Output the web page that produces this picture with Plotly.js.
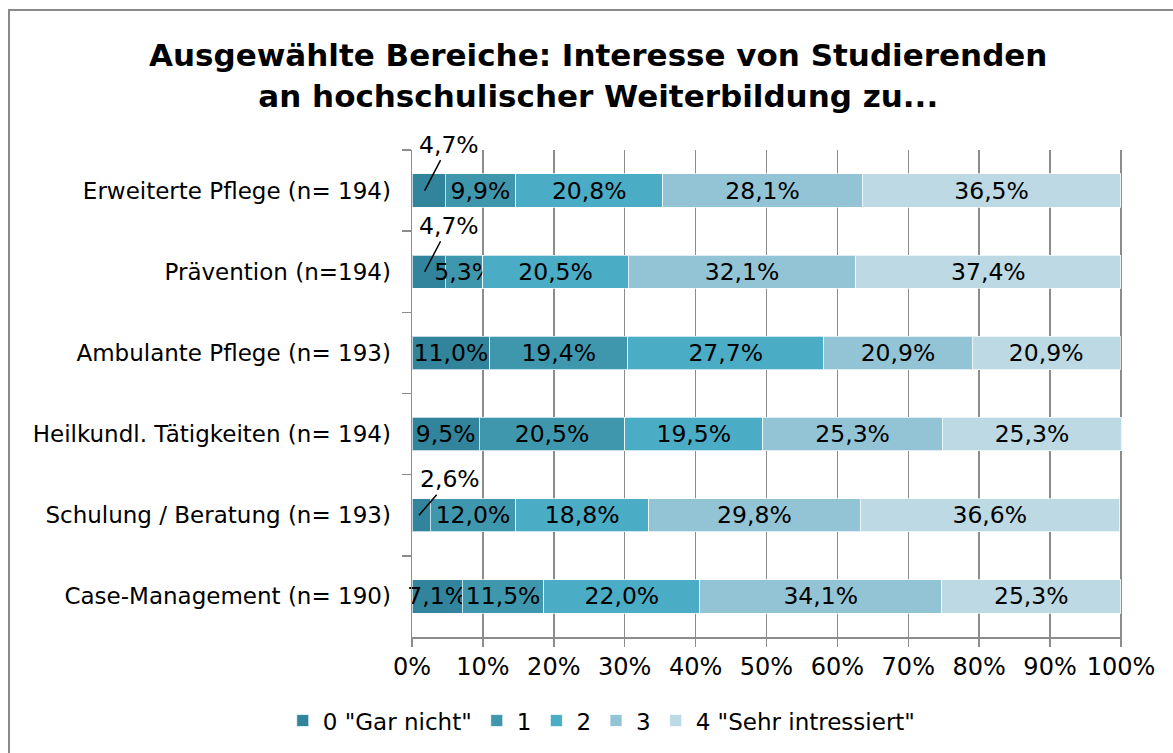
<!DOCTYPE html>
<html>
<head>
<meta charset="utf-8">
<script src="https://cdn.plot.ly/plotly-3.0.1.min.js"></script>
<style>
  html, body { margin: 0; padding: 0; background: #fff; overflow: hidden; }
  #wrap { position: relative; width: 1173px; height: 753px; overflow: hidden; background: #fff; }
  #chart { position: absolute; left: 0; top: 0; width: 1173px; height: 753px; }
  #frame { position: absolute; left: 8px; top: 9px; width: 1165px; height: 744px;
           border-top: 2px solid #8a8a8a; border-left: 2px solid #8a8a8a;
           pointer-events: none; box-sizing: border-box; }
</style>
</head>
<body>
<div id="wrap">
  <div id="chart"></div>
  <div id="frame"></div>
</div>
<script>
const categories = [
  'Erweiterte Pflege (n= 194)',
  'Prävention (n=194)',
  'Ambulante Pflege (n= 193)',
  'Heilkundl. Tätigkeiten (n= 194)',
  'Schulung / Beratung (n= 193)',
  'Case-Management (n= 190)'
];
const seriesNames = ['0 "Gar nicht"', '1', '2', '3', '4 "Sehr intressiert"'];
const s0 = [4.7, 4.7, 11.0, 9.5, 2.6, 7.1];
const s1 = [9.9, 5.3, 19.4, 20.5, 12.0, 11.5];
const s2 = [20.8, 20.5, 27.7, 19.5, 18.8, 22.0];
const s3 = [28.1, 32.1, 20.9, 25.3, 29.8, 34.1];
const s4 = [36.5, 37.4, 20.9, 25.3, 36.6, 25.3];
const xTicks = [0, 10, 20, 30, 40, 50, 60, 70, 80, 90, 100];

const colors = ['#31849b', '#3f97ae', '#4bacc6', '#93c4d6', '#bcd9e4'];
const allSeries = [s0, s1, s2, s3, s4];
const fmt = v => v.toFixed(1).replace('.', ',') + '%';
const FONT = 'DejaVu Sans, Liberation Sans, Arial, sans-serif';

const traces = allSeries.map((vals, si) => ({
  type: 'bar',
  orientation: 'h',
  name: seriesNames[si],
  y: categories,
  x: vals,
  text: vals.map(v => (si === 0 && v < 5) ? '' : fmt(v)),
  textposition: 'inside',
  insidetextanchor: 'middle',
  textangle: 0,
  constraintext: 'none',
  cliponaxis: false,
  textfont: { family: FONT, size: 23.5, color: '#000' },
  marker: { color: colors[si], line: { color: 'rgba(255,255,255,0.7)', width: 1 } },
  hoverinfo: 'x+name'
}));

// callout labels for the small first-series segments
const callouts = [];
s0.forEach((v, i) => {
  if (v < 5) {
    callouts.push({
      x: v * 0.38, y: categories[i], xref: 'x', yref: 'y',
      text: fmt(v),
      showarrow: true, arrowhead: 0, arrowwidth: 1.5, arrowcolor: '#000',
      ax: i === 4 ? 31 : 24, ay: i === 4 ? -36 : -46,
      standoff: 0,
      font: { family: FONT, size: 23.5, color: '#000' },
      bgcolor: 'rgba(255,255,255,0)'
    });
  }
});

const layout = {
  width: 1173, height: 753,
  paper_bgcolor: '#fff', plot_bgcolor: '#fff',
  margin: { l: 412, r: 51, t: 150, b: 116 },
  font: { family: FONT, size: 23, color: '#000' },
  title: {
    text: '<b>Ausgewählte Bereiche: Interesse von Studierenden<br>an hochschulischer Weiterbildung zu...</b>',
    font: { family: FONT, size: 31, color: '#000' },
    x: 0.51, xanchor: 'center', xref: 'container',
    y: 0.912, yanchor: 'top', yref: 'container'
  },
  barmode: 'stack',
  bargap: 0.59,
  xaxis: {
    range: [0, 100.15],
    tickvals: xTicks,
    ticktext: xTicks.map(t => t + '%'),
    showgrid: true, gridcolor: '#8c8c8c', gridwidth: 1.5,
    showline: true, linecolor: '#8c8c8c', linewidth: 1.5,
    ticks: 'outside', ticklen: 8, tickcolor: '#8c8c8c', tickwidth: 1.5,
    tickfont: { family: FONT, size: 24, color: '#000' },
    zeroline: false, fixedrange: true
  },
  yaxis: {
    type: 'category',
    categoryorder: 'array', categoryarray: categories,
    autorange: 'reversed',
    showline: true, linecolor: '#8c8c8c', linewidth: 1.5,
    ticks: 'outside', ticklen: 9, tickcolor: '#8c8c8c', tickwidth: 1.5,
    tickson: 'boundaries',
    ticklabelstandoff: 15,
    showgrid: false,
    tickfont: { family: FONT, size: 23, color: '#000' },
    fixedrange: true
  },
  legend: {
    orientation: 'h', x: 0.513, xanchor: 'center', xref: 'container',
    y: 0.043, yanchor: 'middle', yref: 'container',
    font: { family: FONT, size: 23, color: '#000' },
    itemwidth: 30, traceorder: 'normal'
  },
  annotations: callouts,
  showlegend: true
};

Plotly.newPlot('chart', traces, layout, { displayModeBar: false, staticPlot: true });
</script>
</body>
</html>
